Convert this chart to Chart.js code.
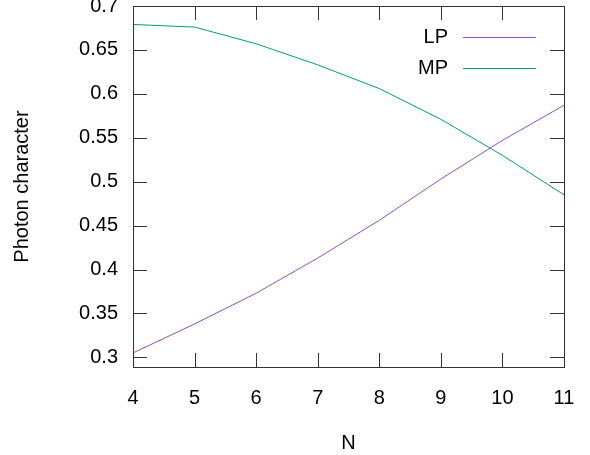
<!DOCTYPE html>
<html>
<head>
<meta charset="utf-8">
<script src="https://cdn.jsdelivr.net/npm/chart.js@4/dist/chart.umd.min.js"></script>
<style>
  html, body { margin: 0; padding: 0; background: #fff; }
  #wrap { width: 590px; height: 455px; }
</style>
</head>
<body>
<div id="wrap"><canvas id="myCanvas"></canvas></div>
<script>
// values
const nValues = [4, 5, 6, 7, 8, 9, 10, 11]
const lpValues = [0.305, 0.338, 0.373, 0.413, 0.456, 0.503, 0.547, 0.587]
const mpValues = [0.679, 0.676, 0.657, 0.633, 0.606, 0.571, 0.530, 0.485]
const seriesNames = ['LP', 'MP']
const seriesColors = ['#9050c4', '#009e73']
const xTicks = [4, 5, 6, 7, 8, 9, 10, 11]
const yTicks = [0.3, 0.35, 0.4, 0.45, 0.5, 0.55, 0.6, 0.65, 0.7]

const fontFamily = '"Liberation Sans", Arial, sans-serif'
const fontSize = 20
const ink = '#000'
const boxColor = '#333'

// gnuplot style frame: full box plus ticks pointing inwards on all four sides
const frame = {
    id: 'frame',
    afterDraw(chart) {
        const { ctx, chartArea: a, scales } = chart
        const len = 14
        ctx.save()
        ctx.strokeStyle = boxColor
        ctx.lineWidth = 1
        ctx.beginPath()
        xTicks.forEach(v => {
            const px = Math.round(scales.x.getPixelForValue(v)) + 0.5
            ctx.moveTo(px, a.bottom); ctx.lineTo(px, a.bottom - len)
            ctx.moveTo(px, a.top); ctx.lineTo(px, a.top + len)
        })
        yTicks.forEach(v => {
            const py = Math.round(scales.y.getPixelForValue(v)) + 0.5
            ctx.moveTo(a.left, py); ctx.lineTo(a.left + len, py)
            ctx.moveTo(a.right, py); ctx.lineTo(a.right - len, py)
        })
        ctx.stroke()
        ctx.strokeRect(Math.round(a.left) + 0.5, Math.round(a.top) + 0.5,
            Math.round(a.right - a.left), Math.round(a.bottom - a.top))

        // key: text on the left, sample line on the right
        ctx.font = fontSize + 'px ' + fontFamily
        ctx.textAlign = 'right'
        ctx.textBaseline = 'middle'
        seriesNames.forEach((name, i) => {
            const y = 37 + i * 31
            ctx.fillStyle = ink
            ctx.fillText(name, 448, y)
            ctx.strokeStyle = seriesColors[i]
            ctx.beginPath()
            ctx.moveTo(463, y + 0.5); ctx.lineTo(536, y + 0.5)
            ctx.stroke()
        })
        ctx.restore()
    }
}

const makeData = vals => nValues.map((n, i) => ({ x: n, y: vals[i] }))

new Chart(document.getElementById('myCanvas').getContext('2d'), {
    type: 'line',
    data: {
        datasets: [
            { label: seriesNames[0], data: makeData(lpValues), borderColor: seriesColors[0], borderWidth: 1, pointRadius: 0, tension: 0 },
            { label: seriesNames[1], data: makeData(mpValues), borderColor: seriesColors[1], borderWidth: 1, pointRadius: 0, tension: 0 }
        ]
    },
    options: {
        responsive: true,
        maintainAspectRatio: false,
        animation: false,
        layout: { padding: { left: 0, right: 26, top: 6, bottom: 0 } },
        plugins: { legend: { display: false }, tooltip: { enabled: false } },
        scales: {
            x: {
                type: 'linear',
                min: 4,
                max: 11,
                afterBuildTicks: s => { s.ticks = xTicks.map(v => ({ value: v })) },
                afterFit: s => { s.height = 88; s.paddingLeft = 0; s.paddingRight = 0 },
                grid: { display: false, drawTicks: false },
                border: { display: false },
                ticks: { color: ink, padding: 19, maxRotation: 0, font: { family: fontFamily, size: fontSize } },
                title: { display: true, text: 'N', color: ink, padding: { top: 0, bottom: 0 }, font: { family: fontFamily, size: fontSize } }
            },
            y: {
                min: 0.289,
                max: 0.7,
                afterBuildTicks: s => { s.ticks = yTicks.map(v => ({ value: v })) },
                afterFit: s => { s.width = 133; s.paddingTop = 0; s.paddingBottom = 0 },
                grid: { display: false, drawTicks: false },
                border: { display: false },
                ticks: { color: ink, padding: 15, callback: v => String(v), font: { family: fontFamily, size: fontSize } },
                title: { display: true, text: 'Photon character', color: ink, padding: { top: 10, bottom: 0 }, font: { family: fontFamily, size: fontSize } }
            }
        }
    },
    plugins: [frame]
})
</script>
</body>
</html>
